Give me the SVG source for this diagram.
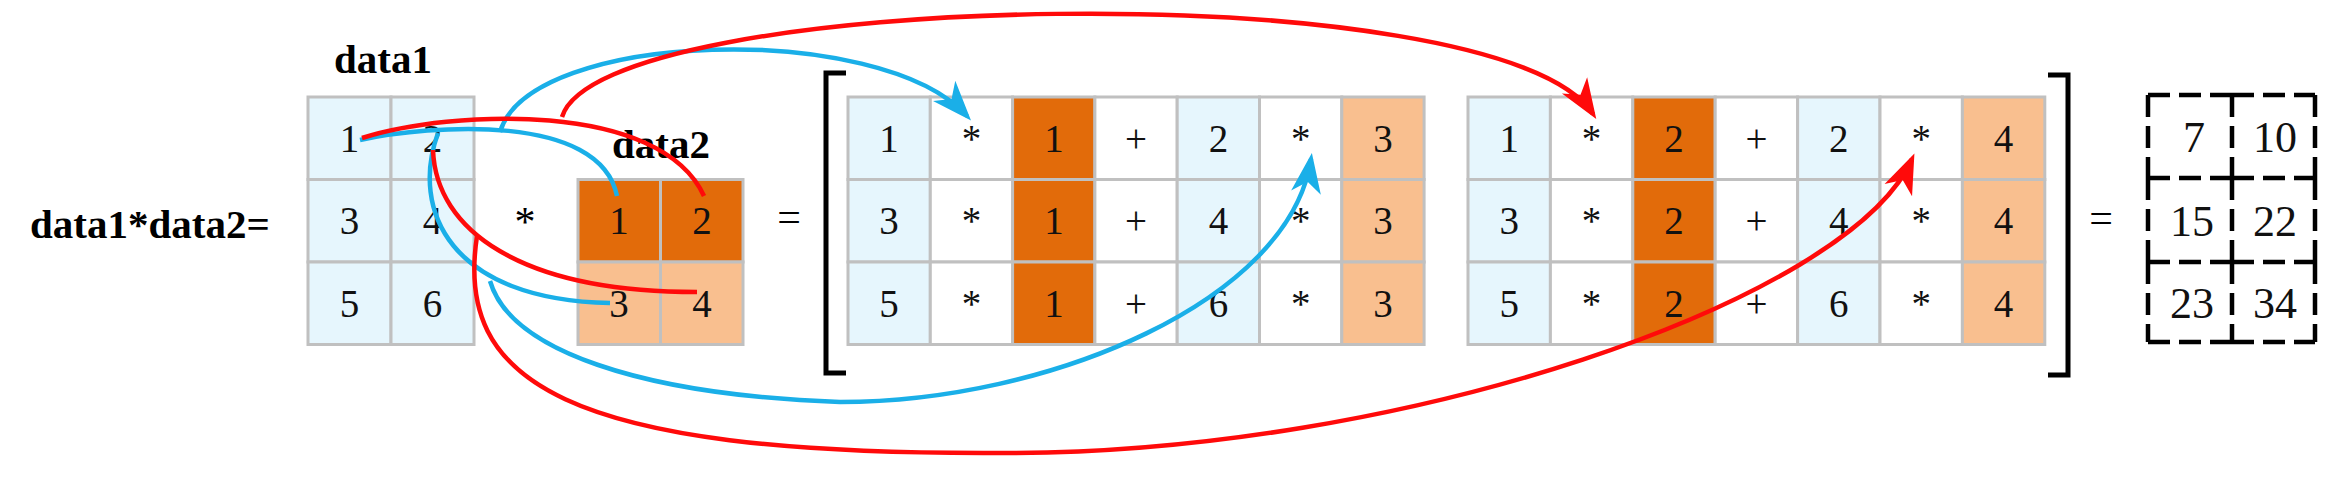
<svg xmlns="http://www.w3.org/2000/svg" width="2348" height="478" viewBox="0 0 2348 478">
<defs>
<style>
.c{stroke:#C0C0C0;stroke-width:3}
.lb{fill:#E6F6FD}.w{fill:#FFFFFF}.dk{fill:#E26B0A}.lo{fill:#F9BF8F}
.t{font-family:"Liberation Serif","Times New Roman",serif;font-size:39px;fill:#111;text-anchor:middle}
.r{font-family:"Liberation Serif","Times New Roman",serif;font-size:44px;fill:#111;text-anchor:middle}
.bl{font-family:"Liberation Serif","Times New Roman",serif;font-size:41px;font-weight:bold;fill:#000}
.op{font-family:"Liberation Serif","Times New Roman",serif;font-size:42px;fill:#000;text-anchor:middle}
.br{fill:none;stroke:#000;stroke-width:5}
.ds{fill:none;stroke:#000;stroke-width:4.5;stroke-dasharray:22 9}
.cb{fill:none;stroke:#1AAFE8;stroke-width:4.5}
.cr{fill:none;stroke:#FF0A0A;stroke-width:4.5}
</style>
<marker id="ab" markerUnits="userSpaceOnUse" viewBox="-40 -18 48 36" markerWidth="48" markerHeight="36" refX="0" refY="0" orient="auto"><path d="M6,0 L-34,-15 L-23,0 L-34,15 z" fill="#1AAFE8"/></marker>
<marker id="ar" markerUnits="userSpaceOnUse" viewBox="-40 -18 48 36" markerWidth="48" markerHeight="36" refX="0" refY="0" orient="auto"><path d="M6,0 L-34,-15 L-23,0 L-34,15 z" fill="#FF0A0A"/></marker>
</defs>
<rect width="2348" height="478" fill="#fff"/>

<g id="label-expr">
<text class="bl" x="30" y="238">data1*data2=</text>
</g>

<g id="data1">
<text class="bl" x="383" y="73" text-anchor="middle">data1</text>
<rect class="c lb" x="308" y="97" width="83" height="82.5"/>
<rect class="c lb" x="391" y="97" width="83" height="82.5"/>
<rect class="c lb" x="308" y="179.5" width="83" height="82.5"/>
<rect class="c lb" x="391" y="179.5" width="83" height="82.5"/>
<rect class="c lb" x="308" y="262" width="83" height="82.5"/>
<rect class="c lb" x="391" y="262" width="83" height="82.5"/>
<text class="t" x="349.5" y="152">1</text><text class="t" x="432.5" y="152">2</text>
<text class="t" x="349.5" y="234">3</text><text class="t" x="432.5" y="234">4</text>
<text class="t" x="349.5" y="317">5</text><text class="t" x="432.5" y="317">6</text>
</g>

<g id="op-mul"><text class="op" x="525" y="236">*</text></g>

<g id="data2">
<text class="bl" x="661" y="158" text-anchor="middle">data2</text>
<rect class="c dk" x="578" y="179.5" width="82.5" height="82.5"/>
<rect class="c dk" x="660.5" y="179.5" width="82.5" height="82.5"/>
<rect class="c lo" x="578" y="262" width="82.5" height="82.5"/>
<rect class="c lo" x="660.5" y="262" width="82.5" height="82.5"/>
<text class="t" x="619" y="234">1</text><text class="t" x="702" y="234">2</text>
<text class="t" x="619" y="317">3</text><text class="t" x="702" y="317">4</text>
</g>

<g id="op-eq1"><text class="op" x="789" y="231">=</text></g>

<g id="product">
<path class="br" d="M846,73 L826,73 L826,373 L846,373"/>
<path class="br" d="M2048,75 L2068,75 L2068,375 L2048,375"/>
<g id="product-col1">
<rect class="c lb" x="848" y="97" width="82.3" height="82.5"/><rect class="c w" x="930.3" y="97" width="82.3" height="82.5"/><rect class="c dk" x="1012.6" y="97" width="82.3" height="82.5"/><rect class="c w" x="1094.9" y="97" width="82.3" height="82.5"/><rect class="c lb" x="1177.2" y="97" width="82.3" height="82.5"/><rect class="c w" x="1259.5" y="97" width="82.3" height="82.5"/><rect class="c lo" x="1341.8" y="97" width="82.3" height="82.5"/>
<rect class="c lb" x="848" y="179.5" width="82.3" height="82.5"/><rect class="c w" x="930.3" y="179.5" width="82.3" height="82.5"/><rect class="c dk" x="1012.6" y="179.5" width="82.3" height="82.5"/><rect class="c w" x="1094.9" y="179.5" width="82.3" height="82.5"/><rect class="c lb" x="1177.2" y="179.5" width="82.3" height="82.5"/><rect class="c w" x="1259.5" y="179.5" width="82.3" height="82.5"/><rect class="c lo" x="1341.8" y="179.5" width="82.3" height="82.5"/>
<rect class="c lb" x="848" y="262" width="82.3" height="82.5"/><rect class="c w" x="930.3" y="262" width="82.3" height="82.5"/><rect class="c dk" x="1012.6" y="262" width="82.3" height="82.5"/><rect class="c w" x="1094.9" y="262" width="82.3" height="82.5"/><rect class="c lb" x="1177.2" y="262" width="82.3" height="82.5"/><rect class="c w" x="1259.5" y="262" width="82.3" height="82.5"/><rect class="c lo" x="1341.8" y="262" width="82.3" height="82.5"/>
<text class="t" x="889" y="152">1</text><text class="t" x="971.5" y="152">*</text><text class="t" x="1054" y="152">1</text><text class="t" x="1136" y="152">+</text><text class="t" x="1218.4" y="152">2</text><text class="t" x="1300.7" y="152">*</text><text class="t" x="1383" y="152">3</text>
<text class="t" x="889" y="234">3</text><text class="t" x="971.5" y="234">*</text><text class="t" x="1054" y="234">1</text><text class="t" x="1136" y="234">+</text><text class="t" x="1218.4" y="234">4</text><text class="t" x="1300.7" y="234">*</text><text class="t" x="1383" y="234">3</text>
<text class="t" x="889" y="317">5</text><text class="t" x="971.5" y="317">*</text><text class="t" x="1054" y="317">1</text><text class="t" x="1136" y="317">+</text><text class="t" x="1218.4" y="317">6</text><text class="t" x="1300.7" y="317">*</text><text class="t" x="1383" y="317">3</text>
</g>
<g id="product-col2">
<rect class="c lb" x="1468" y="97" width="82.4" height="82.5"/><rect class="c w" x="1550.4" y="97" width="82.4" height="82.5"/><rect class="c dk" x="1632.8" y="97" width="82.4" height="82.5"/><rect class="c w" x="1715.2" y="97" width="82.4" height="82.5"/><rect class="c lb" x="1797.6" y="97" width="82.4" height="82.5"/><rect class="c w" x="1880" y="97" width="82.4" height="82.5"/><rect class="c lo" x="1962.4" y="97" width="82.4" height="82.5"/>
<rect class="c lb" x="1468" y="179.5" width="82.4" height="82.5"/><rect class="c w" x="1550.4" y="179.5" width="82.4" height="82.5"/><rect class="c dk" x="1632.8" y="179.5" width="82.4" height="82.5"/><rect class="c w" x="1715.2" y="179.5" width="82.4" height="82.5"/><rect class="c lb" x="1797.6" y="179.5" width="82.4" height="82.5"/><rect class="c w" x="1880" y="179.5" width="82.4" height="82.5"/><rect class="c lo" x="1962.4" y="179.5" width="82.4" height="82.5"/>
<rect class="c lb" x="1468" y="262" width="82.4" height="82.5"/><rect class="c w" x="1550.4" y="262" width="82.4" height="82.5"/><rect class="c dk" x="1632.8" y="262" width="82.4" height="82.5"/><rect class="c w" x="1715.2" y="262" width="82.4" height="82.5"/><rect class="c lb" x="1797.6" y="262" width="82.4" height="82.5"/><rect class="c w" x="1880" y="262" width="82.4" height="82.5"/><rect class="c lo" x="1962.4" y="262" width="82.4" height="82.5"/>
<text class="t" x="1509.2" y="152">1</text><text class="t" x="1591.6" y="152">*</text><text class="t" x="1674" y="152">2</text><text class="t" x="1756.4" y="152">+</text><text class="t" x="1838.8" y="152">2</text><text class="t" x="1921.2" y="152">*</text><text class="t" x="2003.6" y="152">4</text>
<text class="t" x="1509.2" y="234">3</text><text class="t" x="1591.6" y="234">*</text><text class="t" x="1674" y="234">2</text><text class="t" x="1756.4" y="234">+</text><text class="t" x="1838.8" y="234">4</text><text class="t" x="1921.2" y="234">*</text><text class="t" x="2003.6" y="234">4</text>
<text class="t" x="1509.2" y="317">5</text><text class="t" x="1591.6" y="317">*</text><text class="t" x="1674" y="317">2</text><text class="t" x="1756.4" y="317">+</text><text class="t" x="1838.8" y="317">6</text><text class="t" x="1921.2" y="317">*</text><text class="t" x="2003.6" y="317">4</text>
</g>
</g>

<g id="op-eq2"><text class="op" x="2101" y="232">=</text></g>

<g id="result">
<line class="ds" x1="2148" y1="95" x2="2232" y2="95"/><line class="ds" x1="2232" y1="95" x2="2315" y2="95"/>
<line class="ds" x1="2148" y1="178" x2="2232" y2="178"/><line class="ds" x1="2232" y1="178" x2="2315" y2="178"/>
<line class="ds" x1="2148" y1="262" x2="2232" y2="262"/><line class="ds" x1="2232" y1="262" x2="2315" y2="262"/>
<line class="ds" x1="2148" y1="342" x2="2232" y2="342"/><line class="ds" x1="2232" y1="342" x2="2315" y2="342"/>
<line class="ds" x1="2148" y1="95" x2="2148" y2="178"/><line class="ds" x1="2148" y1="178" x2="2148" y2="262"/><line class="ds" x1="2148" y1="262" x2="2148" y2="342"/>
<line class="ds" x1="2232" y1="95" x2="2232" y2="178"/><line class="ds" x1="2232" y1="178" x2="2232" y2="262"/><line class="ds" x1="2232" y1="262" x2="2232" y2="342"/>
<line class="ds" x1="2315" y1="95" x2="2315" y2="178"/><line class="ds" x1="2315" y1="178" x2="2315" y2="262"/><line class="ds" x1="2315" y1="262" x2="2315" y2="342"/>
<text class="r" x="2194" y="152">7</text><text class="r" x="2275" y="152">10</text>
<text class="r" x="2192" y="236">15</text><text class="r" x="2275" y="236">22</text>
<text class="r" x="2192" y="318">23</text><text class="r" x="2275" y="318">34</text>
</g>

<g id="connectors">
<path class="cb" d="M360,140 C430,125 600,112 617,196"/>
<path class="cb" d="M500,132 C530,30 880,20 967,116" marker-end="url(#ab)"/>
<path class="cr" d="M362,138 C450,110 660,100 704,196"/>
<path class="cr" d="M562,117 C600,-10 1500,-30 1593,114" marker-end="url(#ar)"/>
<path class="cb" d="M438,133 C410,210 450,300 610,303"/>
<path class="cb" d="M490,281 C510,350 640,395 840,402 C1050,402 1290,300 1311,159" marker-end="url(#ab)"/>
<path class="cr" d="M433,150 C436,230 520,292 697,292"/>
<path class="cr" d="M477,236 C455,380 560,455 1000,453 C1400,455 1850,300 1912,159" marker-end="url(#ar)"/>
</g>
</svg>
